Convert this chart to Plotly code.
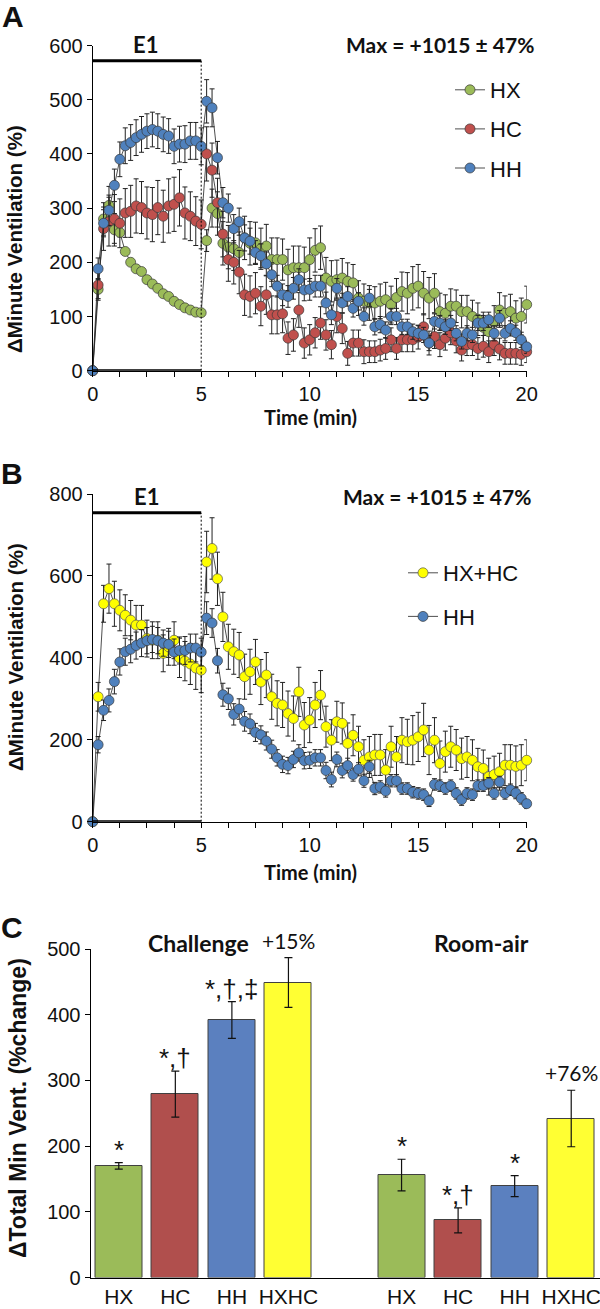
import numpy as np
import plotly.graph_objects as go

# ---------------- DATA ----------------
TIME = np.arange(0, 20.001, 0.25)          # 15-s bins, 0-20 min
E1_START, E1_END = 0, 5

HX = [0, 150, 280, 305, 260, 255, 220, 200, 188, 183, 168, 160, 152, 142, 137, 128, 122, 116, 112, 108, 107,
      240, 300, 290, 235, 228, 225, 218, 245, 235, 236, 225, 230, 205, 205, 205, 186, 190, 190, 190, 205,
      222, 227, 171, 165, 168, 171, 165, 162, 134, 128, 125, 125, 128, 131, 122, 135, 146, 143, 152, 156,
      143, 134, 143, 109, 106, 119, 119, 109, 109, 100, 95, 80, 72, 90, 112, 106, 109, 97, 100, 122]
HX_ERR = [0, 20, 30, 35, 30, 8, 6, 6, 6, 5, 5, 5, 5, 5, 5, 5, 5, 5, 5, 5, 5,
          20, 35, 40, 40, 40, 40, 38, 40, 40, 38, 38, 40, 40, 40, 38, 38, 40, 40, 38, 40,
          40, 40, 38, 38, 36, 36, 34, 34, 32, 32, 32, 30, 32, 32, 34, 35, 36, 38, 40, 40,
          40, 38, 36, 34, 34, 32, 30, 30, 30, 30, 30, 28, 28, 30, 32, 32, 32, 32, 34, 34]

HC = [0, 158, 262, 275, 280, 272, 291, 294, 304, 301, 291, 288, 301, 285, 304, 307, 319, 291, 285, 276, 270,
      400, 370, 310, 252, 205, 200, 182, 140, 137, 143, 119, 140, 103, 103, 105, 60, 66, 112, 51, 57,
      70, 88, 66, 48, 100, 78, 32, 51, 51, 35, 35, 35, 38, 41, 57, 41, 57, 57, 57, 62,
      81, 51, 63, 48, 60, 70, 55, 38, 48, 48, 41, 45, 35, 48, 40, 32, 32, 32, 30, 35]
HC_ERR = [0, 25, 40, 45, 45, 45, 45, 48, 50, 48, 48, 50, 50, 48, 50, 50, 52, 48, 45, 45, 45,
          50, 50, 45, 42, 40, 40, 40, 38, 38, 38, 36, 36, 35, 35, 35, 30, 30, 32, 28, 28,
          28, 30, 28, 26, 30, 28, 22, 24, 24, 22, 20, 20, 20, 20, 22, 20, 22, 22, 22, 22,
          24, 22, 22, 22, 22, 22, 22, 20, 20, 20, 20, 20, 20, 20, 20, 20, 20, 20, 20, 20]

HH = [0, 188, 272, 296, 342, 390, 415, 421, 430, 436, 442, 445, 442, 436, 433, 414, 418, 418, 424, 424, 414,
      497, 485, 393, 310, 300, 262, 275, 245, 239, 218, 212, 197, 177, 156, 140, 137, 152, 168, 149, 150,
      156, 156, 125, 103, 152, 125, 137, 115, 128, 100, 134, 81, 85, 75, 100, 100, 81, 81, 72, 69,
      66, 51, 91, 88, 81, 88, 69, 54, 69, 66, 88, 88, 94, 69, 97, 69, 78, 70, 57, 44]
HH_ERR = [0, 20, 25, 28, 30, 32, 33, 33, 33, 33, 32, 32, 32, 32, 32, 32, 33, 34, 34, 34, 34,
          40, 35, 30, 28, 26, 26, 25, 24, 24, 22, 22, 22, 22, 20, 20, 20, 20, 20, 20, 20,
          20, 20, 20, 18, 18, 18, 18, 16, 16, 16, 16, 15, 15, 15, 15, 15, 14, 14, 14, 14,
          14, 14, 14, 14, 14, 14, 14, 14, 14, 14, 14, 14, 14, 14, 14, 14, 14, 14, 14, 12]

HXHC = [0, 305, 532, 569, 532, 516, 504, 492, 480, 480, 447, 443, 443, 411, 427, 443, 400, 392, 385, 375, 370,
        634, 667, 593, 500, 427, 415, 407, 354, 366, 390, 341, 358, 305, 289, 285, 264, 252, 317, 236, 248,
        285, 309, 232, 199, 244, 240, 191, 211, 183, 150, 158, 163, 163, 126, 183, 158, 199, 195, 199, 207,
        224, 175, 199, 142, 171, 183, 175, 154, 158, 150, 134, 130, 110, 115, 122, 138, 138, 135, 138, 150]
HXHC_ERR = [0, 35, 45, 60, 55, 50, 50, 48, 48, 48, 45, 45, 45, 45, 45, 45, 48, 48, 50, 52, 55,
            75, 75, 65, 60, 55, 55, 55, 55, 55, 55, 55, 55, 55, 55, 55, 55, 55, 60, 55, 55,
            55, 60, 50, 50, 50, 50, 50, 50, 50, 50, 50, 50, 50, 50, 50, 50, 55, 55, 60, 60,
            65, 60, 55, 55, 50, 50, 50, 50, 50, 50, 45, 45, 45, 45, 45, 50, 50, 50, 50, 50]

BAR_CATS = ["HX", "HC", "HH", "HXHC"]
CHALLENGE = [170, 279, 392, 449]
CHALLENGE_ERR = [5, 35, 28, 38]
CHALLENGE_SIG = ["*", "*,†", "*,†,‡", "+15%"]
ROOMAIR = [156, 87, 139, 242]
ROOMAIR_ERR = [24, 19, 16, 43]
ROOMAIR_SIG = ["*", "*,†", "*", "+76%"]
MAX_TEXT = "Max = +1015 ± 47%"

# ---------------- STYLE ----------------
C_HX, C_HC, C_HH, C_Y = "#9BBB59", "#C0504D", "#4F81BD", "#FFFF00"
BAR_COLORS = ["#9BBB59", "#B04F4D", "#5B80BF", "#FFFF33"]
ARIAL = "Liberation Sans, Arial, sans-serif"
CALI = "Lato, Open Sans, sans-serif"
W, H = 600, 1309

def px(x):
    return x / W

def py(y):
    return 1 - y / H

XDOM = [px(92.7), px(526.7)]

fig = go.Figure()

def series(name, y, err, color, xa, ya, legend, outline="#3a3a3a"):
    fig.add_trace(go.Scatter(
        x=TIME, y=y, name=name, mode="lines+markers", xaxis=xa, yaxis=ya,
        line=dict(color="#222222", width=0.8),
        marker=dict(size=10, color=color, line=dict(color=outline, width=0.7)),
        error_y=dict(type="data", array=err, color="#222222", thickness=1, width=2.5),
        cliponaxis=False, legend=legend))

series("HX", HX, HX_ERR, C_HX, "x", "y", "legend")
series("HC", HC, HC_ERR, C_HC, "x", "y", "legend")
series("HH", HH, HH_ERR, C_HH, "x", "y", "legend")
series("HX+HC", HXHC, HXHC_ERR, C_Y, "x2", "y2", "legend2", outline="#555555")
series("HH", HH, HH_ERR, C_HH, "x2", "y2", "legend2")

# bars: challenge group in slots 0-3, one empty slot, room-air group in slots 5-8
pos_ch = [i for i in range(len(BAR_CATS))]
pos_ra = [i + len(BAR_CATS) + 1 for i in range(len(BAR_CATS))]
for pos, vals, errs in [(pos_ch, CHALLENGE, CHALLENGE_ERR), (pos_ra, ROOMAIR, ROOMAIR_ERR)]:
    fig.add_trace(go.Bar(
        x=pos, y=vals, width=0.83, xaxis="x3", yaxis="y3", showlegend=False,
        marker=dict(color=BAR_COLORS, line=dict(color="#404040", width=1)),
        error_y=dict(type="data", array=errs, color="#111111", thickness=1.2, width=4)))

axis_common = dict(showline=True, linecolor="black", linewidth=1, ticks="outside", ticklen=5,
                   tickcolor="black", showgrid=False, zeroline=False, automargin=False,
                   tickfont=dict(family=ARIAL, size=20, color="#111111"))

fig.update_layout(
    width=W, height=H, margin=dict(l=0, r=0, t=0, b=0, autoexpand=False),
    paper_bgcolor="white", plot_bgcolor="white", showlegend=True, bargap=0,
    xaxis=dict(domain=XDOM, range=[0, 20], anchor="y", dtick=5, **axis_common,
               minor=dict(dtick=1.25, ticks="outside", ticklen=5, tickcolor="black")),
    yaxis=dict(domain=[py(370.7), py(45.5)], range=[0, 600], anchor="x", dtick=100, **axis_common),
    xaxis2=dict(domain=XDOM, range=[0, 20], anchor="y2", dtick=5, **axis_common,
                minor=dict(dtick=1.25, ticks="outside", ticklen=5, tickcolor="black")),
    yaxis2=dict(domain=[py(821.7), py(494)], range=[0, 800], anchor="x2", dtick=200, **axis_common),
    xaxis3=dict(domain=[px(90.5), px(599.5)], range=[-0.5, 8.5], anchor="y3",
                tickvals=pos_ch + pos_ra, ticktext=BAR_CATS + BAR_CATS, automargin=False,
                ticklabeloverflow="allow",
                showline=True, linecolor="black", linewidth=1, ticks="", showgrid=False, zeroline=False,
                tickfont=dict(family=ARIAL, size=21, color="#111111")),
    yaxis3=dict(domain=[py(1277.5), py(949)], range=[0, 500], anchor="x3", dtick=100, **axis_common),
    legend=dict(x=px(450), y=py(69), xanchor="left", yanchor="top", bgcolor="rgba(0,0,0,0)",
                font=dict(family=ARIAL, size=22, color="#111111"), tracegroupgap=7.5,
                traceorder="grouped"),
    legend2=dict(x=px(403), y=py(552), xanchor="left", yanchor="top", bgcolor="rgba(0,0,0,0)",
                 font=dict(family=ARIAL, size=22, color="#111111"), tracegroupgap=12,
                 traceorder="grouped"),
)
for i, tr in enumerate(fig.data):
    tr.legendgroup = f"g{i}"

# E1 bars and dashed lines
for xa, ya, ytop in [("x", "y", 572), ("x2", "y2", 754)]:
    fig.add_shape(type="line", xref=xa, yref=ya, x0=E1_START, x1=E1_END, y0=ytop, y1=ytop,
                  line=dict(color="black", width=3))
    fig.add_shape(type="line", xref=xa, yref=ya, x0=E1_START, x1=E1_END, y0=0, y1=0,
                  line=dict(color="black", width=3))
    fig.add_shape(type="line", xref=xa, yref=ya, x0=E1_END, x1=E1_END, y0=0, y1=ytop,
                  line=dict(color="black", width=1, dash="2px,2px"))

ann = []
def A(text, x, y, size, family=CALI, bold=True, angle=0, xanchor="center"):
    t = f"<b>{text}</b>" if bold else text
    ann.append(dict(text=t, x=px(x), y=py(y), xref="paper", yref="paper", showarrow=False,
                    xanchor=xanchor, yanchor="middle", textangle=angle,
                    font=dict(family=family, size=size, color="#111111")))

A("A", 13, 16, 30, ARIAL)
A("B", 12, 474, 30, ARIAL)
A("C", 12, 927, 30, ARIAL)
A("E1", 145, 45, 22)
A("E1", 146, 497, 22)
A(MAX_TEXT, 440, 45, 21)
A(MAX_TEXT, 437, 497, 21)
A("Time (min)", 310, 417, 20)
A("Time (min)", 310, 872, 20)
A("ΔMinute Ventilation (%)", 15, 239, 20.5, ARIAL, angle=-90)
A("ΔMinute Ventilation (%)", 15, 657, 20.5, ARIAL, angle=-90)
A("ΔTotal Min Vent. (%change)", 18, 1108, 23, ARIAL, angle=-90)
A("Challenge", 198, 943, 23)
A("Room-air", 481, 943, 23)

for pos, vals, errs, sigs in [(pos_ch, CHALLENGE, CHALLENGE_ERR, CHALLENGE_SIG),
                              (pos_ra, ROOMAIR, ROOMAIR_ERR, ROOMAIR_SIG)]:
    for p, v, e, s in zip(pos, vals, errs, sigs):
        pct = s.startswith("+")
        ann.append(dict(text=s, x=p, y=v + e, xref="x3", yref="y3", showarrow=False,
                        xanchor="center", yanchor="bottom", yshift=(3 if pct else -4),
                        font=dict(family=(CALI if pct else ARIAL), size=(21 if pct else 26),
                                  color="#111111")))

fig.update_layout(annotations=ann)
fig.write_html("out.html", config={"displayModeBar": False},
               post_script="document.body.style.margin='0';document.body.style.overflow='hidden';")
